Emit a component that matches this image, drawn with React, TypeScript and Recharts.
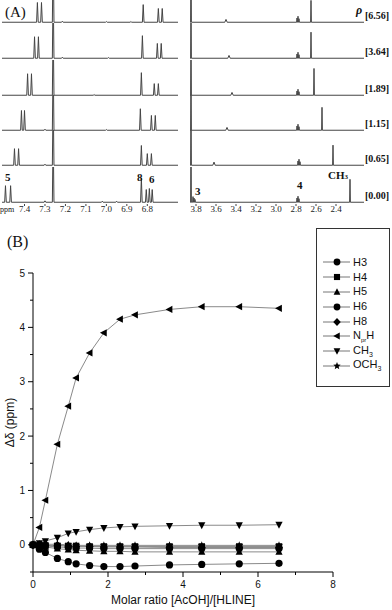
import React from 'react';
import { LineChart, Line, XAxis, YAxis, Legend } from 'recharts';

// ---- panel A: 1H NMR spectra, top (rho = 6.56) to bottom (rho = 0.00) ----
const rhoLabels = ['[6.56]', '[3.64]', '[1.89]', '[1.15]', '[0.65]', '[0.00]'];

// [ppm, height, half-width?] per spectrum, aromatic window
const aromaticPeaks: number[][][] = [
  [[7.337, 0.56], [7.317, 0.56], [7.26, 2], [7.215, 0.03], [7.0, 0.02], [6.88, 0.02], [6.82, 0.5], [6.746, 0.39], [6.727, 0.39]],
  [[7.351, 0.61], [7.332, 0.61], [7.26, 2], [7.215, 0.03], [6.99, 0.02], [6.824, 0.64], [6.751, 0.42], [6.732, 0.42]],
  [[7.385, 0.61], [7.366, 0.61], [7.26, 2], [7.06, 0.02], [6.829, 0.64], [6.766, 0.33], [6.746, 0.33]],
  [[7.415, 0.56], [7.4, 0.56], [7.26, 2], [7.3, 0.03], [7.0, 0.02], [6.834, 0.61], [6.78, 0.42], [6.761, 0.42]],
  [[7.449, 0.47], [7.429, 0.47], [7.26, 2], [7.3, 0.03], [6.829, 0.56], [6.8, 0.33], [6.78, 0.33]],
  [[7.493, 0.47], [7.468, 0.47], [7.26, 2], [7.3, 0.04], [7.02, 0.03], [6.95, 0.03], [6.829, 0.69], [6.805, 0.36], [6.79, 0.39], [6.776, 0.36]],
];

// aliphatic window
const aliphaticPeaks: number[][][] = [
  [[3.85, 2], [3.5, 0.08, 0.012], [2.79, 0.12], [2.78, 0.17], [2.77, 0.1], [2.65, 0.62]],
  [[3.85, 2], [3.47, 0.08, 0.012], [2.79, 0.12], [2.78, 0.17], [2.77, 0.1], [2.65, 0.74]],
  [[3.85, 2], [3.44, 0.08, 0.012], [2.79, 0.12], [2.78, 0.17], [2.77, 0.1], [2.62, 0.76]],
  [[3.85, 2], [3.49, 0.08, 0.012], [2.79, 0.12], [2.78, 0.17], [2.77, 0.1], [2.54, 0.65]],
  [[3.85, 2], [3.62, 0.09, 0.012], [2.78, 0.12], [2.77, 0.17], [2.76, 0.1], [2.43, 0.57]],
  [[3.85, 2], [3.83, 0.16], [3.82, 0.12], [3.81, 0.08], [2.79, 0.12], [2.78, 0.17], [2.77, 0.1], [2.26, 0.65]],
];

const aromaticTicks = [7.4, 7.3, 7.2, 7.1, 7.0, 6.9, 6.8];
const aliphaticTicks = [3.8, 3.6, 3.4, 3.2, 3.0, 2.8, 2.6, 2.4];

// ---- panel B: chemical shift change vs molar ratio ----
const ratio = [0, 0.17, 0.33, 0.65, 0.94, 1.15, 1.51, 1.89, 2.32, 2.72, 3.64, 4.5, 5.5, 6.56];
const h3 = [0, -0.08, -0.14, -0.25, -0.31, -0.35, -0.38, -0.4, -0.4, -0.39, -0.37, -0.36, -0.35, -0.34];
const h4 = [0, -0.01, -0.01, -0.02, -0.02, -0.02, -0.03, -0.03, -0.03, -0.03, -0.03, -0.03, -0.03, -0.03];
const h5 = [0, -0.02, -0.04, -0.07, -0.09, -0.1, -0.11, -0.12, -0.12, -0.13, -0.13, -0.13, -0.13, -0.13];
const h6 = [0, -0.01, -0.02, -0.04, -0.05, -0.06, -0.06, -0.07, -0.07, -0.07, -0.07, -0.07, -0.07, -0.07];
const h8 = [0, 0, -0.01, -0.01, -0.02, -0.03, -0.03, -0.04, -0.04, -0.04, -0.05, -0.05, -0.05, -0.05];
const nprH = [0, 0.32, 0.82, 1.85, 2.55, 3.07, 3.53, 3.9, 4.15, 4.23, 4.33, 4.38, 4.38, 4.35];
const ch3 = [0, 0.03, 0.07, 0.13, 0.21, 0.24, 0.28, 0.31, 0.33, 0.34, 0.35, 0.36, 0.36, 0.37];
const och3 = [0, 0.01, 0.01, 0.01, 0, -0.01, -0.01, -0.01, -0.01, -0.01, -0.01, -0.01, -0.01, -0.01];

type Shape = 'circle' | 'square' | 'up' | 'diamond' | 'left' | 'down' | 'star';

const series: { key: string; shape: Shape; values: number[]; label: React.ReactNode }[] = [
  { key: 'H3', shape: 'circle', values: h3, label: 'H3' },
  { key: 'H4', shape: 'square', values: h4, label: 'H4' },
  { key: 'H5', shape: 'up', values: h5, label: 'H5' },
  { key: 'H6', shape: 'circle', values: h6, label: 'H6' },
  { key: 'H8', shape: 'diamond', values: h8, label: 'H8' },
  { key: 'NprH', shape: 'left', values: nprH, label: <>N<sub style={{ fontSize: 6 }}>pr</sub>H</> },
  { key: 'CH3', shape: 'down', values: ch3, label: <>CH<sub style={{ fontSize: 7 }}>3</sub></> },
  { key: 'OCH3', shape: 'star', values: och3, label: <>OCH<sub style={{ fontSize: 7 }}>3</sub></> },
];

const chartData = ratio.map((r, i) => {
  const row: Record<string, number> = { ratio: r };
  series.forEach((s) => { row[s.key] = s.values[i]; });
  return row;
});

const ROW_BASELINES = [22, 58, 95, 130, 165, 202];
const ROW_H = 37;
const SERIF = '"Liberation Serif", "DejaVu Serif", serif';
const SANS = '"Liberation Sans", Arial, sans-serif';

function buildSpectrum(peaks: number[][], lo: number, hi: number) {
  const pts: { ppm: number; v: number }[] = [{ ppm: hi, v: 0 }, { ppm: lo, v: 0 }];
  peaks.forEach(([p, h, w = 0.004]) => {
    pts.push({ ppm: p + w, v: 0 }, { ppm: p, v: h }, { ppm: p - w, v: 0 });
  });
  return pts.sort((a, b) => b.ppm - a.ppm);
}

function SpectrumRow({ peaks, lo, hi, left, width, baseline, ticks }: any) {
  const data = buildSpectrum(peaks, lo, hi);
  const axis = !!ticks;
  return (
    <div style={{ position: 'absolute', left, top: baseline - 35 }}>
      <LineChart width={width} height={ROW_H + (axis ? 16 : 0)} data={data} margin={{ top: 0, right: 0, bottom: 0, left: 0 }}>
        <XAxis
          type="number"
          dataKey="ppm"
          domain={[lo, hi]}
          reversed
          allowDataOverflow
          hide={!axis}
          ticks={ticks}
          interval={0}
          height={16}
          axisLine={false}
          tickSize={2}
          tickMargin={0}
          tickLine={{ stroke: '#444' }}
          tick={{ fontSize: 9, fontFamily: SERIF, fill: '#222' }}
          tickFormatter={(v: number) => v.toFixed(1)}
        />
        <YAxis hide domain={[-0.05, 1]} allowDataOverflow />
        <Line dataKey="v" type="linear" stroke="#444" strokeWidth={1} dot={false} isAnimationActive={false} />
      </LineChart>
    </div>
  );
}

function Marker({ cx, cy, shape, r = 3.6 }: { cx: number; cy: number; shape: Shape; r?: number }) {
  const f = '#000';
  switch (shape) {
    case 'circle':
      return <circle cx={cx} cy={cy} r={r} fill={f} />;
    case 'square':
      return <rect x={cx - r * 0.9} y={cy - r * 0.9} width={r * 1.8} height={r * 1.8} fill={f} />;
    case 'up':
      return <polygon points={`${cx},${cy - r * 1.1} ${cx + r},${cy + r * 0.8} ${cx - r},${cy + r * 0.8}`} fill={f} />;
    case 'down':
      return <polygon points={`${cx},${cy + r * 1.1} ${cx + r},${cy - r * 0.8} ${cx - r},${cy - r * 0.8}`} fill={f} />;
    case 'left':
      return <polygon points={`${cx - r * 1.1},${cy} ${cx + r * 0.8},${cy - r} ${cx + r * 0.8},${cy + r}`} fill={f} />;
    case 'diamond':
      return <polygon points={`${cx},${cy - r * 1.2} ${cx + r * 1.1},${cy} ${cx},${cy + r * 1.2} ${cx - r * 1.1},${cy}`} fill={f} />;
    default: {
      const pts: string[] = [];
      for (let k = 0; k < 10; k++) {
        const rad = k % 2 === 0 ? r * 1.15 : r * 0.5;
        const a = -Math.PI / 2 + (k * Math.PI) / 5;
        pts.push(`${cx + rad * Math.cos(a)},${cy + rad * Math.sin(a)}`);
      }
      return <polygon points={pts.join(' ')} fill={f} />;
    }
  }
}

function YTick({ x, y, payload }: any) {
  const major = Number.isInteger(payload.value) && payload.value >= 0;
  return (
    <g>
      <line x1={x} x2={x - (Number.isInteger(payload.value) ? 5 : 3)} y1={y} y2={y} stroke="#000" />
      {major && (
        <text x={x - 8} y={y} dy={3.5} textAnchor="end" fontSize={10} fontFamily={SANS} fill="#111">
          {payload.value}
        </text>
      )}
    </g>
  );
}

function XTick({ x, y, payload }: any) {
  const major = payload.value % 2 === 0;
  return (
    <g>
      <line x1={x} x2={x} y1={y} y2={y + (major ? 5 : 3)} stroke="#000" />
      {major && (
        <text x={x} y={y + 16} textAnchor="middle" fontSize={10} fontFamily={SANS} fill="#111">
          {payload.value}
        </text>
      )}
    </g>
  );
}

function XTitle({ viewBox }: any) {
  return (
    <text x={viewBox.x + viewBox.width / 2} y={viewBox.y + 32} textAnchor="middle" fontSize={12} fontFamily={SANS} fill="#111">
      Molar ratio [AcOH]/[HLINE]
    </text>
  );
}

function YTitle({ viewBox }: any) {
  const cx = viewBox.x + 14;
  const cy = viewBox.y + viewBox.height / 2;
  return (
    <text x={cx} y={cy} transform={`rotate(-90 ${cx} ${cy})`} textAnchor="middle" fontSize={12} fontFamily={SANS} fill="#111">
      Δδ (ppm)
    </text>
  );
}

// legend follows the series order, not the draw order
function LegendBox() {
  return (
    <div style={{ border: '1px solid #333', background: '#fff', width: 74, height: 159, boxSizing: 'border-box', paddingTop: 26, fontFamily: SANS }}>
      {series.map((s) => (
        <div key={s.key} style={{ display: 'flex', alignItems: 'center', height: 14.8 }}>
          <svg width={36} height={14} style={{ flex: 'none' }}>
            <line x1={6} x2={33} y1={7} y2={7} stroke="#777" />
            <Marker cx={20} cy={7} shape={s.shape} r={3.4} />
          </svg>
          <span style={{ fontSize: 11, color: '#111', lineHeight: 1 }}>{s.label}</span>
        </div>
      ))}
    </div>
  );
}

const lbl = (extra: React.CSSProperties): React.CSSProperties => ({
  position: 'absolute',
  fontFamily: SERIF,
  lineHeight: 1,
  color: '#111',
  whiteSpace: 'nowrap',
  ...extra,
});

export default function App() {
  return (
    <div style={{ position: 'absolute', left: 0, top: 0, width: 392, height: 610, background: '#fff', overflow: 'hidden' }}>
      {ROW_BASELINES.map((b, i) => (
        <SpectrumRow
          key={`a${i}`}
          peaks={aromaticPeaks[i]}
          lo={6.65}
          hi={7.51}
          left={2}
          width={176}
          baseline={b}
          ticks={i === ROW_BASELINES.length - 1 ? aromaticTicks : undefined}
        />
      ))}
      {ROW_BASELINES.map((b, i) => (
        <SpectrumRow
          key={`b${i}`}
          peaks={aliphaticPeaks[i]}
          lo={2.12}
          hi={3.86}
          left={190}
          width={174}
          baseline={b}
          ticks={i === ROW_BASELINES.length - 1 ? aliphaticTicks : undefined}
        />
      ))}

      <div style={lbl({ left: 5, top: 5, fontSize: 15 })}>(A)</div>
      <div style={lbl({ left: 356, top: 4, fontSize: 12, fontWeight: 700, fontStyle: 'italic' })}>ρ</div>
      {rhoLabels.map((t, i) => (
        <div key={t} style={lbl({ left: 365, top: ROW_BASELINES[i] - 11, fontSize: 10, fontWeight: 700 })}>{t}</div>
      ))}
      <div style={lbl({ left: 0, top: 206, fontSize: 8 })}>ppm</div>
      <div style={lbl({ left: 5, top: 172, fontSize: 11, fontWeight: 700 })}>5</div>
      <div style={lbl({ left: 137, top: 172, fontSize: 11, fontWeight: 700 })}>8</div>
      <div style={lbl({ left: 149, top: 174, fontSize: 11, fontWeight: 700 })}>6</div>
      <div style={lbl({ left: 195, top: 186, fontSize: 11, fontWeight: 700 })}>3</div>
      <div style={lbl({ left: 297, top: 180, fontSize: 11, fontWeight: 700 })}>4</div>
      <div style={lbl({ left: 328, top: 170, fontSize: 11, fontWeight: 700 })}>
        CH<span style={{ fontSize: 7 }}>3</span>
      </div>
      <div style={lbl({ left: 7, top: 234, fontSize: 16 })}>(B)</div>

      <div style={{ position: 'absolute', left: 0, top: 225 }}>
        <LineChart width={392} height={385} data={chartData} margin={{ top: 48, right: 59, bottom: 0, left: 0 }}>
          <XAxis
            type="number"
            dataKey="ratio"
            domain={[0, 8]}
            ticks={[0, 1, 2, 3, 4, 5, 6, 7, 8]}
            interval={0}
            height={38}
            tickSize={0}
            tickMargin={0}
            tickLine={false}
            axisLine={{ stroke: '#000' }}
            tick={<XTick />}
            label={<XTitle />}
          />
          <YAxis
            type="number"
            domain={[-0.5, 5]}
            ticks={[-0.5, 0, 0.5, 1, 1.5, 2, 2.5, 3, 3.5, 4, 4.5, 5]}
            interval={0}
            width={33}
            tickSize={0}
            tickMargin={0}
            tickLine={false}
            axisLine={{ stroke: '#000' }}
            tick={<YTick />}
            label={<YTitle />}
          />
          <Legend
            layout="vertical"
            align="center"
            verticalAlign="middle"
            wrapperStyle={{ left: 316, top: 3, width: 74 }}
            content={<LegendBox />}
          />
          {series.map((s) => (
            <Line
              key={s.key}
              dataKey={s.key}
              name={s.key}
              type="linear"
              stroke="#8a8a8a"
              strokeWidth={1}
              isAnimationActive={false}
              dot={(p: any) => (
                <g key={`${s.key}-${p.index}`}>
                  <Marker cx={p.cx} cy={p.cy} shape={s.shape} />
                </g>
              )}
              activeDot={false}
            />
          ))}
        </LineChart>
      </div>
    </div>
  );
}
